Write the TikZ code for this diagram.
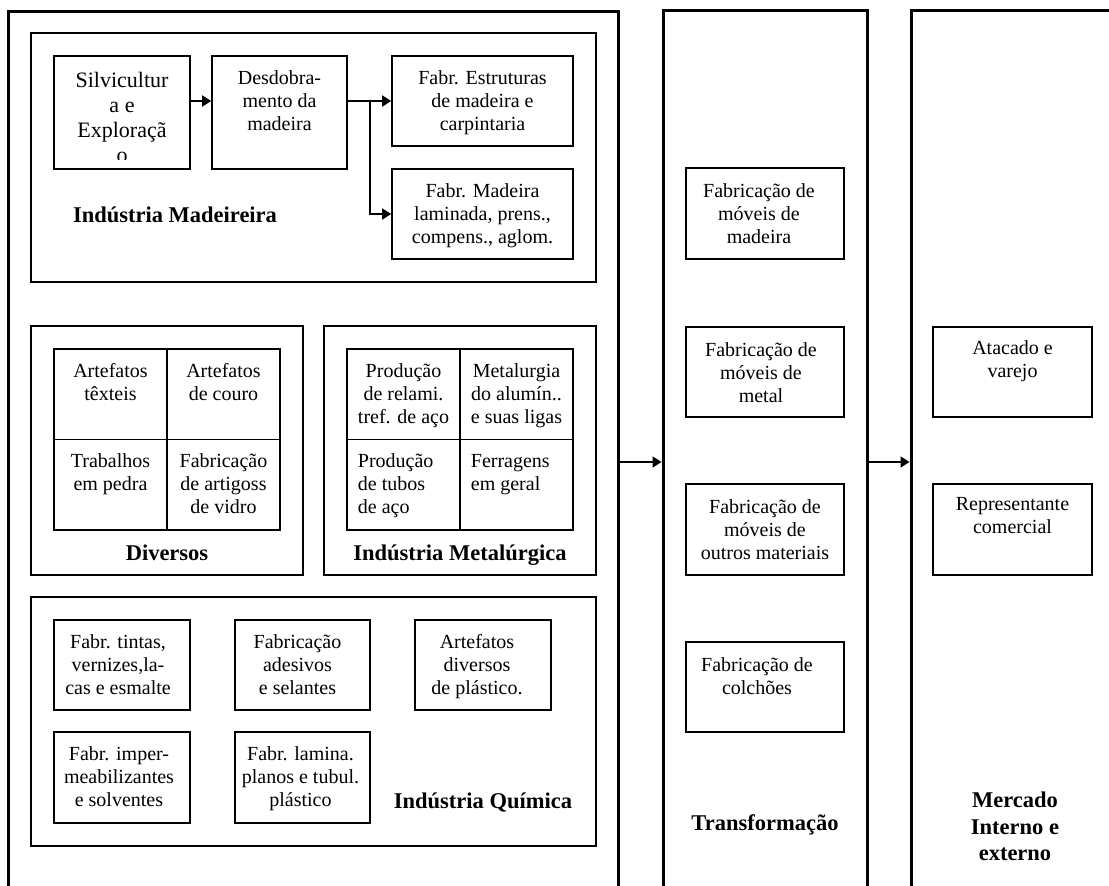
\documentclass[tikz,border=0pt]{standalone}
\usepackage{fontspec}
\setmainfont{Liberation Serif}
\usetikzlibrary{arrows.meta,positioning}
\tikzset{
  bigframe/.style={draw,line width=3pt,inner sep=0pt},
  grpframe/.style={draw,line width=2.7pt,inner sep=0pt},
  itembox/.style={draw,line width=1.6pt,inner sep=0pt},
  itemtxt/.style={align=center,inner sep=0pt,font=\fontsize{20}{23}\selectfont},
  itemleft/.style={align=left,inner sep=0pt,font=\fontsize{20}{23}\selectfont},
  grplabel/.style={align=center,inner sep=0pt,font=\fontsize{22.5}{26.5}\selectfont\bfseries},
  flowarrow/.style={-{Triangle[length=9pt,width=11pt]},line width=1.6pt},
}

\begin{document}
\begin{tikzpicture}[x=1pt,y=-1pt]
\useasboundingbox (0,0) rectangle (1109,886);
\clip (0,0) rectangle (1109,886);
\node[bigframe,minimum width=610pt,minimum height=902pt] (ind) at (313,462) {};
\node[bigframe,minimum width=204pt,minimum height=904pt] (trf) at (765,462) {};
\node[bigframe,minimum width=229pt,minimum height=904pt] (mer) at (1025.5,462) {};
\node[grpframe,minimum width=565pt,minimum height=249pt] (mad) at (313.5,157.5) {};
\node[grpframe,minimum width=272pt,minimum height=249pt] (div) at (167,450.5) {};
\node[grpframe,minimum width=272pt,minimum height=249pt] (met) at (460,450.5) {};
\node[grpframe,minimum width=565pt,minimum height=249pt] (qui) at (313.5,721.5) {};

\node[itembox,minimum width=136pt,minimum height=113pt] (silv) at (122,112.5) {};
\node[itembox,minimum width=135pt,minimum height=113pt] (desd) at (279.5,112.5) {};
\node[itembox,minimum width=181pt,minimum height=90pt] (estr) at (482.5,101) {};
\node[itembox,minimum width=181pt,minimum height=90pt] (madl) at (482.5,214) {};
\begin{scope}
\clip (54,56) rectangle (190,159);
\node[itemtxt,font=\fontsize{22}{25}\selectfont,below=16.5pt of silv.north] (silvtxt) {Silvicultur\\a e\\Exploraçã\\o};
\end{scope}
\node[itemtxt,below=15pt of desd.north] (desdtxt) {Desdobra-\\mento da\\madeira};
\node[itemtxt,below=15pt of estr.north] (estrtxt) {Fabr. Estruturas\\de madeira e\\carpintaria};
\node[itemtxt,below=15pt of madl.north] (madltxt) {Fabr. Madeira\\laminada, prens.,\\compens., aglom.};
\node[grplabel,anchor=base] (madlbl) at (175,222) {Indústria Madeireira};
\draw[flowarrow] ([yshift=11.5pt]silv.east) -- ([yshift=11.5pt]desd.west);
\draw[flowarrow] (desd.east |- estr.west) -- (estr.west);
\coordinate (split) at (370,101);
\draw[flowarrow] (split) |- (madl.west);

\node[itembox,minimum width=113pt,minimum height=90.5pt] (tex) at (110.5,394.25) {};
\node[itembox,minimum width=113pt,minimum height=90.5pt] (cou) at (223.5,394.25) {};
\node[itembox,minimum width=113pt,minimum height=90.5pt] (ped) at (110.5,484.75) {};
\node[itembox,minimum width=113pt,minimum height=90.5pt] (vid) at (223.5,484.75) {};
\node[itemtxt,below=15pt of tex.north] (textxt) {Artefatos\\têxteis};
\node[itemtxt,below=15pt of cou.north] (coutxt) {Artefatos\\de couro};
\node[itemtxt,below=15pt of ped.north] (pedtxt) {Trabalhos\\em pedra};
\node[itemtxt,below=15pt of vid.north] (vidtxt) {Fabricação\\de artigoss\\de vidro};
\node[grplabel,anchor=base] (divlbl) at (167,560) {Diversos};

\node[itembox,minimum width=113pt,minimum height=90.5pt] (rel) at (403.5,394.25) {};
\node[itembox,minimum width=113pt,minimum height=90.5pt] (alu) at (516.5,394.25) {};
\node[itembox,minimum width=113pt,minimum height=90.5pt] (tub) at (403.5,484.75) {};
\node[itembox,minimum width=113pt,minimum height=90.5pt] (fer) at (516.5,484.75) {};
\node[itemtxt,below=15pt of rel.north] (reltxt) {Produção\\de relami.\\tref. de aço};
\node[itemtxt,below=15pt of alu.north] (alutxt) {Metalurgia\\do alumín..\\e suas ligas};
\node[itemleft,below right=15pt and 11.5pt of tub.north west] (tubtxt) {Produção\\de tubos\\de aço};
\node[itemleft,below right=15pt and 11.5pt of fer.north west] (fertxt) {Ferragens\\em geral};
\node[grplabel,anchor=base] (metlbl) at (460,560) {Indústria Metalúrgica};

\node[itembox,minimum width=136pt,minimum height=90pt] (tin) at (122,665) {};
\node[itembox,minimum width=135pt,minimum height=90pt] (ade) at (302.5,665) {};
\node[itembox,minimum width=136pt,minimum height=90pt] (pla) at (483,665) {};
\node[itembox,minimum width=136pt,minimum height=91pt] (imp) at (122,777.5) {};
\node[itembox,minimum width=135pt,minimum height=91pt] (lam) at (302.5,777.5) {};
\node[itemtxt,below=15pt of tin.north,xshift=-4pt] (tintxt) {Fabr. tintas,\\vernizes,la-\\cas e esmalte};
\node[itemtxt,below=15pt of ade.north,xshift=-5pt] (adetxt) {Fabricação\\adesivos\\e selantes};
\node[itemtxt,below=15pt of pla.north,xshift=-6pt] (platxt) {Artefatos\\diversos\\de plástico.};
\node[itemtxt,below=15pt of imp.north,xshift=-3pt] (imptxt) {Fabr. imper-\\meabilizantes\\e solventes};
\node[itemtxt,below=15pt of lam.north,xshift=-2pt] (lamtxt) {Fabr. lamina.\\planos e tubul.\\plástico};
\node[grplabel,anchor=base] (quilbl) at (483,808) {Indústria Química};

\node[itembox,minimum width=158pt,minimum height=91pt] (mmad) at (765,213.5) {};
\node[itembox,minimum width=158pt,minimum height=90pt] (mmet) at (765,372) {};
\node[itembox,minimum width=158pt,minimum height=91pt] (mout) at (765,529.5) {};
\node[itembox,minimum width=158pt,minimum height=90pt] (mcol) at (765,687) {};
\node[itemtxt,below=16pt of mmad.north,xshift=-6pt] (mmadtxt) {Fabricação de\\móveis de\\madeira};
\node[itemtxt,below=16pt of mmet.north,xshift=-4pt] (mmettxt) {Fabricação de\\móveis de\\metal};
\node[itemtxt,below=16pt of mout.north] (mouttxt) {Fabricação de\\móveis de\\outros materiais};
\node[itemtxt,below=16pt of mcol.north,xshift=-8pt] (mcoltxt) {Fabricação de\\colchões};
\node[grplabel,anchor=base] (trflbl) at (765,830) {Transformação};

\node[itembox,minimum width=159pt,minimum height=90pt] (ata) at (1012.5,372) {};
\node[itembox,minimum width=159pt,minimum height=91pt] (rep) at (1012.5,529.5) {};
\node[itemtxt,below=14pt of ata.north] (atatxt) {Atacado e\\varejo};
\node[itemtxt,below=14pt of rep.north] (reptxt) {Representante\\comercial};
\node[grplabel,anchor=north] (merlbl) at (1015,792) {Mercado\\Interno e\\externo};

\draw[flowarrow] (ind) -- (trf);
\draw[flowarrow] (trf) -- (mer);
\end{tikzpicture}
\end{document}
